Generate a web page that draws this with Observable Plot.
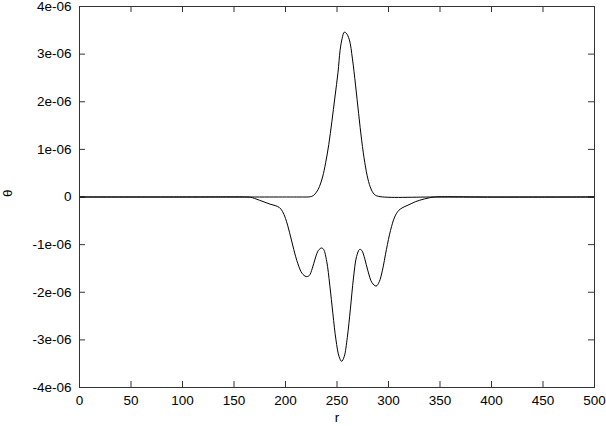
<!DOCTYPE html>
<html><head><meta charset="utf-8">
<script src="https://cdn.jsdelivr.net/npm/d3@7"></script>
<script src="https://cdn.jsdelivr.net/npm/@observablehq/plot@0.6"></script>
<style>body{margin:0;background:#fff}</style>
</head><body><div id="chart"></div>
<script>
// values of theta are in units of 1e-06
const rUpper = [0, 150, 215, 220, 224, 227, 230, 233, 236, 239, 242, 245, 248, 251, 253, 255, 257, 259, 262, 265, 268, 271, 274, 277, 280, 283, 286, 290, 350, 500];
const thetaUpper = [0, 0, 0, 0, 0.005, 0.03, 0.1, 0.22, 0.42, 0.72, 1.1, 1.58, 2.1, 2.62, 3.08, 3.33, 3.46, 3.44, 3.3, 2.9, 2.35, 1.75, 1.18, 0.72, 0.38, 0.17, 0.06, 0.015, 0, 0];
const rLower = [0, 100, 160, 166, 170, 175, 180, 185, 190, 194, 197, 200, 204, 208, 212, 216, 220, 223, 226, 229, 232, 235, 237, 240, 243, 246, 249, 252, 254.5, 257, 260, 263, 266, 269, 272, 274, 277, 280, 284, 288, 291, 294, 298, 302, 306, 310, 314, 318, 322, 326, 330, 335, 340, 345, 400, 500];
const thetaLower = [0, 0, 0, -0.005, -0.03, -0.07, -0.11, -0.15, -0.18, -0.22, -0.3, -0.45, -0.75, -1.1, -1.4, -1.6, -1.67, -1.65, -1.5, -1.28, -1.12, -1.07, -1.1, -1.35, -1.85, -2.45, -3.0, -3.35, -3.45, -3.35, -2.95, -2.35, -1.7, -1.25, -1.1, -1.12, -1.3, -1.55, -1.8, -1.87, -1.78, -1.55, -1.1, -0.7, -0.42, -0.28, -0.22, -0.18, -0.14, -0.1, -0.07, -0.04, -0.015, 0, 0, 0];
const xTicks = [0, 50, 100, 150, 200, 250, 300, 350, 400, 450, 500];
const yTicks = [-4, -3, -2, -1, 0, 1, 2, 3, 4];
const yTickLabels = ["-4e-06", "-3e-06", "-2e-06", "-1e-06", "0", "1e-06", "2e-06", "3e-06", "4e-06"];
const unit = 1e-6;

const upper = rUpper.map((r, i) => ({r, v: thetaUpper[i] * unit}));
const lower = rLower.map((r, i) => ({r, v: thetaLower[i] * unit}));
const yTickVals = yTicks.map(t => t * unit);
const fmtY = d => yTickLabels[yTickVals.indexOf(d)];

const W = 606, H = 426, mL = 79, mR = 12, mT = 6, mB = 39;
const fw = W - mL - mR, fh = H - mT - mB, tl = 6;
const ink = "#333";

const chart = Plot.plot({
  width: W, height: H,
  marginLeft: mL, marginRight: mR, marginTop: mT, marginBottom: mB,
  x: {domain: [0, 500]},
  y: {domain: [-4 * unit, 4 * unit]},
  style: {fontFamily: "'Liberation Sans', Arial, sans-serif", fontSize: "13.5px", background: "#fff", color: "#000"},
  marks: [
    Plot.tickX(xTicks, {x: d => d, insetTop: fh - tl, stroke: ink}),
    Plot.tickX(xTicks, {x: d => d, insetBottom: fh - tl, stroke: ink}),
    Plot.tickY(yTickVals, {y: d => d, insetRight: fw - tl, stroke: ink}),
    Plot.tickY(yTickVals, {y: d => d, insetLeft: fw - tl, stroke: ink}),
    Plot.axisX({ticks: xTicks, tickSize: 0, tickPadding: 8, label: null, fontSize: 13.5}),
    Plot.axisY({ticks: yTickVals, tickSize: 0, tickPadding: 8, tickFormat: fmtY, label: null, fontSize: 13.5}),
    Plot.line(upper, {x: "r", y: "v", curve: "catmull-rom", stroke: "#000", strokeWidth: 1}),
    Plot.line(lower, {x: "r", y: "v", curve: "catmull-rom", stroke: "#000", strokeWidth: 1}),
    Plot.frame({stroke: ink}),
    Plot.text(["r"], {text: d => d, frameAnchor: "bottom", dy: 34, fontSize: 13.5}),
    Plot.text(["θ"], {text: d => d, frameAnchor: "left", dx: -72, rotate: -90, fontSize: 13.5})
  ]
});
document.getElementById("chart").appendChild(chart);
</script>
</body></html>
